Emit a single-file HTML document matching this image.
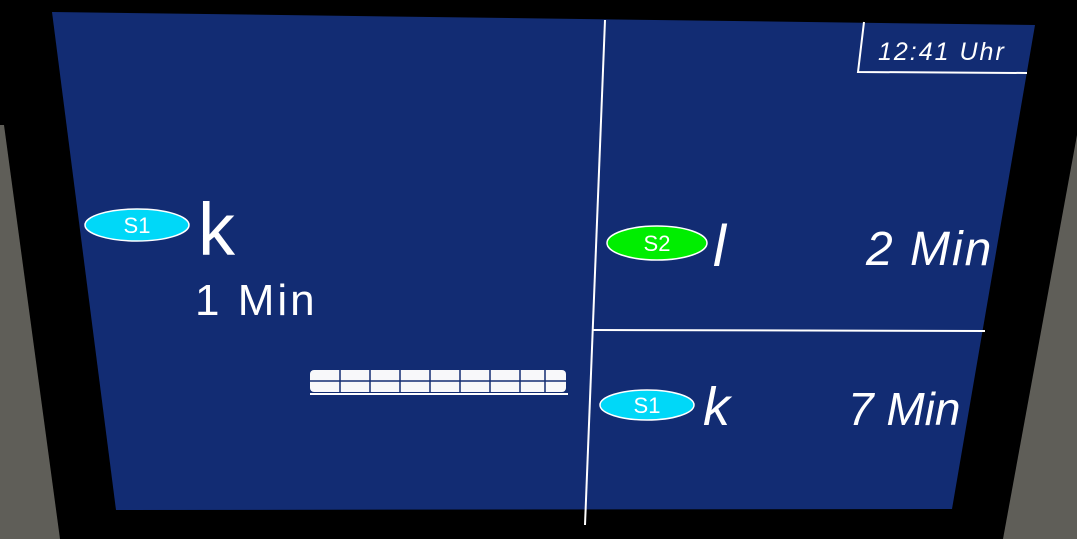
<!DOCTYPE html>
<html><head><meta charset="utf-8"><style>
html,body{margin:0;padding:0;background:#000;width:1077px;height:539px;overflow:hidden}
svg{display:block}
text{font-family:"Liberation Sans",sans-serif;fill:#fff}
</style></head><body>
<svg width="1077" height="539" viewBox="0 0 1077 539">
<rect width="1077" height="539" fill="#000"/>
<polygon points="0,125 4,125 60,539 0,539" fill="#5f5e58"/>
<polygon points="1077,135 1077,539 1003,539" fill="#5f5e58"/>
<polygon points="52,12 1035,25 952,509 116,510" fill="#122c73"/>
<line x1="605" y1="20" x2="585" y2="525" stroke="#fff" stroke-width="2"/>
<line x1="593" y1="330" x2="985" y2="331" stroke="#fff" stroke-width="2"/>
<polyline points="864,22 858,72 1027,73" fill="none" stroke="#fff" stroke-width="2"/>
<text x="878" y="60" font-size="25" font-style="italic" letter-spacing="2">12:41 Uhr</text>
<ellipse cx="137" cy="225" rx="52" ry="16" fill="#00d8f8" stroke="#fff" stroke-width="1.5"/>
<text x="137" y="233" font-size="22" text-anchor="middle">S1</text>
<text x="198" y="255" font-size="74">k</text>
<text x="195" y="315" font-size="44" letter-spacing="3">1 Min</text>
<rect x="310" y="370" width="256" height="22" rx="4" fill="#f8f8fa"/>
<g stroke="#122c73" stroke-width="1.5">
<line x1="310" y1="381" x2="566" y2="381"/>
<line x1="340" y1="370" x2="340" y2="392"/><line x1="370" y1="370" x2="370" y2="392"/>
<line x1="400" y1="370" x2="400" y2="392"/><line x1="430" y1="370" x2="430" y2="392"/>
<line x1="460" y1="370" x2="460" y2="392"/><line x1="490" y1="370" x2="490" y2="392"/>
<line x1="520" y1="370" x2="520" y2="392"/><line x1="545" y1="370" x2="545" y2="392"/>
</g>
<rect x="310" y="393" width="258" height="2" fill="#fff"/>
<ellipse cx="657" cy="243" rx="50" ry="17" fill="#00ee00" stroke="#fff" stroke-width="1.5"/>
<text x="657" y="251" font-size="22" text-anchor="middle">S2</text>
<text x="713" y="266" font-size="58" font-style="italic">l</text>
<text x="866" y="265" font-size="48" font-style="italic" letter-spacing="2">2 Min</text>
<ellipse cx="647" cy="405" rx="47" ry="15" fill="#00d8f8" stroke="#fff" stroke-width="1.5"/>
<text x="647" y="413" font-size="22" text-anchor="middle">S1</text>
<text x="703" y="425" font-size="54" font-style="italic">k</text>
<text x="848" y="425" font-size="46" font-style="italic">7 Min</text>
</svg>
</body></html>
